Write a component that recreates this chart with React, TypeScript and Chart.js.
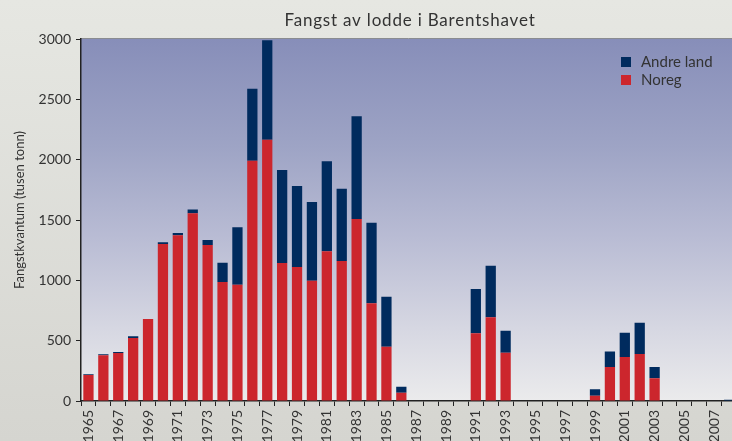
import React, { useEffect, useRef } from "react";
import { Chart, registerables } from "chart.js";

Chart.register(...registerables);

const years = [
  "1965","1966","1967","1968","1969","1970","1971","1972","1973","1974",
  "1975","1976","1977","1978","1979","1980","1981","1982","1983","1984",
  "1985","1986","1987","1988","1989","1990","1991","1992","1993","1994",
  "1995","1996","1997","1998","1999","2000","2001","2002","2003","2004",
  "2005","2006","2007","2008",
];

const noreg = [
  215, 380, 398, 522, 679, 1301, 1373, 1555, 1293, 986,
  964, 1991, 2166, 1144, 1110, 997, 1240, 1160, 1508, 810,
  450, 69, 0, 0, 0, 0, 561, 694, 400, 0,
  0, 0, 0, 0, 44, 282, 365, 390, 188, 0,
  0, 0, 0, 0,
];

const andreLand = [
  7, 7, 8, 14, 0, 14, 19, 33, 41, 160,
  475, 597, 823, 770, 672, 652, 746, 599, 851, 668,
  414, 50, 0, 0, 0, 0, 367, 427, 183, 0,
  0, 0, 0, 0, 53, 129, 201, 259, 94, 0,
  0, 0, 0, 10,
];

const yTicks = [0, 500, 1000, 1500, 2000, 2500, 3000];

const TITLE = "Fangst av lodde i Barentshavet";
const Y_TITLE = "Fangstkvantum (tusen tonn)";
const FONT = "Lato, 'Open Sans', sans-serif";
const TEXT = "#333333";
const RED = "#cc262d";
const NAVY = "#002b5e";

const decorPlugin = {
  id: "decor",
  beforeDraw(chart: any) {
    const { ctx, chartArea } = chart;
    const { left, top, right, bottom } = chartArea;
    ctx.save();
    const g = ctx.createLinearGradient(0, top, 0, bottom);
    g.addColorStop(0, "#878eb9");
    g.addColorStop(0.3, "#9ea4c5");
    g.addColorStop(0.55, "#b9bcd4");
    g.addColorStop(0.8, "#d6d7e2");
    g.addColorStop(1, "#ebebec");
    ctx.fillStyle = g;
    ctx.fillRect(left, top, right - left, bottom - top);
    ctx.strokeStyle = "#8a8c90";
    ctx.lineWidth = 1;
    ctx.beginPath();
    ctx.moveTo(left, top - 0.5);
    ctx.lineTo(right, top - 0.5);
    ctx.stroke();
    ctx.restore();
  },
  afterDraw(chart: any) {
    const { ctx } = chart;
    ctx.save();
    ctx.fillStyle = TEXT;
    ctx.font = `17px ${FONT}`;
    try {
      (ctx as any).letterSpacing = "0.8px";
    } catch (e) {}
    ctx.textAlign = "center";
    ctx.textBaseline = "alphabetic";
    ctx.fillText(TITLE, 410, 26);
    try {
      (ctx as any).letterSpacing = "0px";
    } catch (e) {}

    ctx.save();
    ctx.translate(20, 210);
    ctx.rotate(-Math.PI / 2);
    ctx.font = `13px ${FONT}`;
    ctx.textAlign = "center";
    ctx.textBaseline = "middle";
    ctx.fillText(Y_TITLE, 0, 0);
    ctx.restore();

    // legend
    const items = chart.data.datasets
      .map((d: any) => ({ label: d.label, color: d.backgroundColor }))
      .reverse();
    ctx.font = `15px ${FONT}`;
    ctx.textAlign = "left";
    ctx.textBaseline = "middle";
    items.forEach((it: any, i: number) => {
      const y = 62 + i * 18;
      ctx.fillStyle = it.color;
      ctx.fillRect(621, y - 5, 10, 10);
      ctx.fillStyle = TEXT;
      ctx.fillText(it.label, 641, y);
    });
    ctx.restore();
  },
};

export default function App() {
  const ref = useRef<HTMLCanvasElement>(null);

  useEffect(() => {
    document.body.style.margin = "0";
    document.body.style.overflow = "hidden";
    const chart = new Chart(ref.current as HTMLCanvasElement, {
      type: "bar",
      data: {
        labels: years,
        datasets: [
          {
            label: "Noreg",
            data: noreg,
            backgroundColor: RED,
            barPercentage: 0.69,
            categoryPercentage: 1,
          },
          {
            label: "Andre land",
            data: andreLand,
            backgroundColor: NAVY,
            barPercentage: 0.69,
            categoryPercentage: 1,
          },
        ],
      },
      options: {
        responsive: false,
        animation: false,
        devicePixelRatio: 1,
        layout: { padding: { left: 0, top: 39, right: 9, bottom: 0 } },
        plugins: {
          legend: { display: false },
          title: { display: false },
          tooltip: { enabled: false },
        },
        scales: {
          x: {
            stacked: true,
            offset: true,
            grid: {
              offset: true,
              drawOnChartArea: false,
              drawTicks: true,
              tickLength: 5,
              color: "#222",
            },
            border: { color: "#222", width: 1.5 },
            ticks: {
              autoSkip: false,
              maxRotation: 90,
              minRotation: 90,
              padding: 4,
              color: TEXT,
              font: { family: FONT, size: 14 },
              callback: (_v: any, i: number) => (i % 2 === 0 ? years[i] : ""),
            },
            afterFit: (s: any) => {
              s.height = 40;
            },
          },
          y: {
            stacked: true,
            min: 0,
            max: 3000,
            afterBuildTicks: (s: any) => {
              s.ticks = yTicks.map((v) => ({ value: v }));
            },
            grid: {
              drawOnChartArea: false,
              drawTicks: true,
              tickLength: 5,
              color: "#222",
            },
            border: { color: "#222", width: 1.5 },
            ticks: {
              padding: 5,
              color: TEXT,
              font: { family: FONT, size: 14 },
              callback: (v: any) => String(v),
            },
            afterFit: (s: any) => {
              s.width = 81;
            },
          },
        },
      },
      plugins: [decorPlugin],
    });
    return () => chart.destroy();
  }, []);

  return (
    <div
      style={{
        position: "fixed",
        left: 0,
        top: 0,
        width: 732,
        height: 441,
        overflow: "hidden",
        background: "linear-gradient(#e6e7e2, #d5d5d0)",
      }}
    >
      <canvas ref={ref} width={750} height={441} style={{ display: "block" }} />
    </div>
  );
}
